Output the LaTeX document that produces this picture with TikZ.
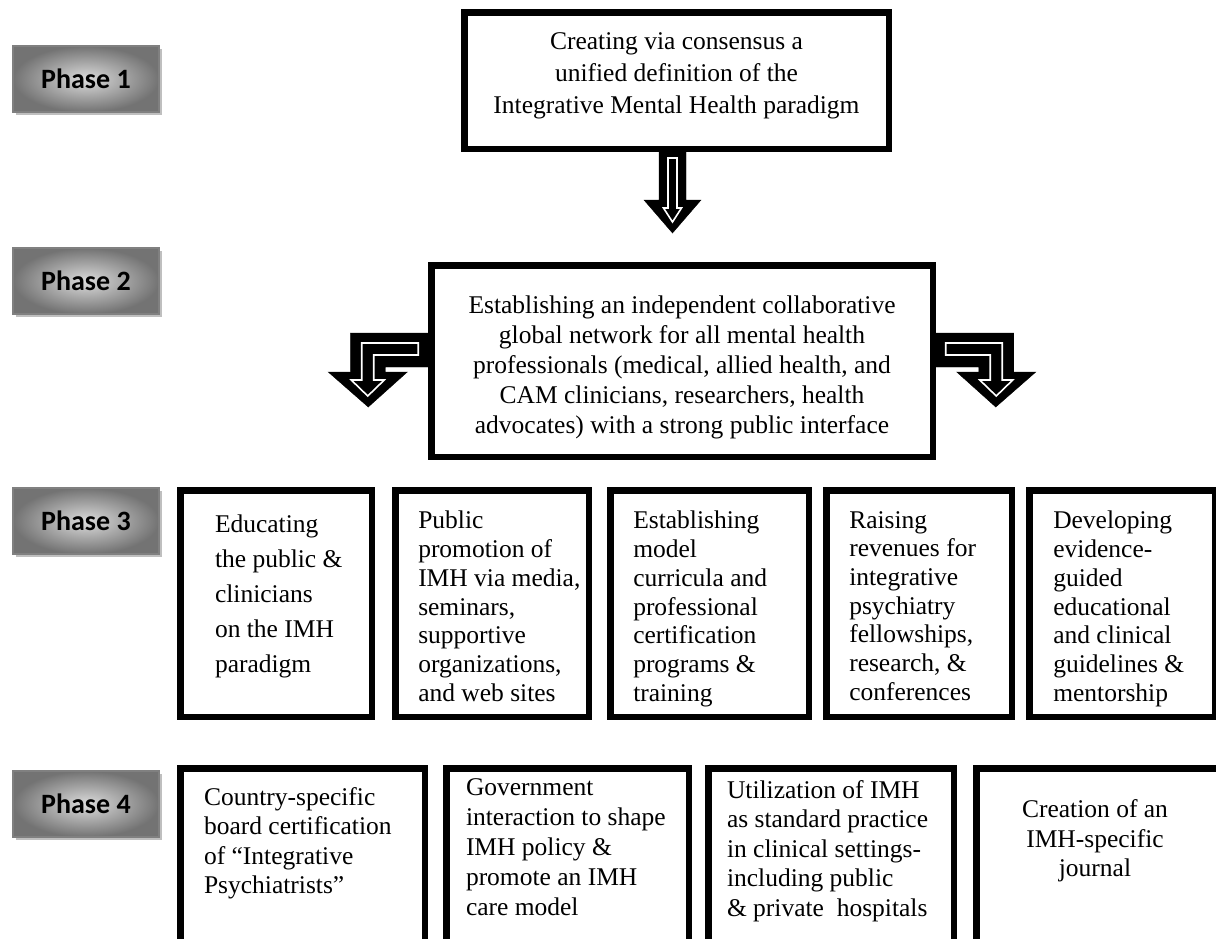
\documentclass[tikz,border=0pt]{standalone}
\usepackage{fontspec}
\setmainfont{Liberation Serif}
\newfontfamily\labelfont{Carlito}
\usetikzlibrary{calc,shadows}

\begin{document}
\begin{tikzpicture}[
    x=1pt, y=-1pt,
    box/.style={draw, line width=6.5pt, inner sep=0pt, outer sep=0pt, anchor=north west},
    txt/.style={inner sep=0pt, outer sep=0pt, anchor=north west, align=left,
        font=\fontsize{25.5}{28.7}\selectfont},
    phase/.style={draw=black!50, line width=2pt, minimum width=146pt, minimum height=66pt,
        inner color=black!14, outer color=black!55,
        drop shadow={shadow xshift=3pt, shadow yshift=-3pt, fill=black!25, opacity=1},
        font=\labelfont\bfseries\fontsize{28}{32}\selectfont},
    blk/.style={fill=black},
    inr/.style={draw=white, line width=1.6pt, fill=black, line join=miter}
]
    \clip (0,0) rectangle (1216,938);
    \fill[white] (0,0) rectangle (1216,938);

    \foreach \y/\n in {79/1,281/2,521/3,804/4}
        \node[phase] (ph\n) at (86,\y) {Phase \n};

    \node[box, minimum width=424.5pt, minimum height=136.5pt] (crt) at (464.25,12.25) {};
    \node[txt, anchor=north, align=center, font=\fontsize{25.5}{32}\selectfont]
        at ($(crt.north)+(0,20)$) {Creating via consensus a\\unified definition of the\\Integrative Mental Health paradigm};

    \node[box, minimum width=501.5pt, minimum height=191.5pt] (net) at (431.25,265.25) {};
    \node[txt, anchor=north, align=center, font=\fontsize{25.5}{30}\selectfont]
        at ($(net.north)+(0,31)$) {Establishing an independent collaborative\\global network for all mental health\\professionals (medical, allied health, and\\CAM clinicians, researchers, health\\advocates) with a strong public interface};

    \node[box, minimum width=191.5pt, minimum height=226.5pt] (edu) at (180.25,490.25) {};
    \node[box, minimum width=193.5pt, minimum height=226.5pt] (pro) at (395.25,490.25) {};
    \node[box, minimum width=198.5pt, minimum height=226.5pt] (cur) at (610.25,490.25) {};
    \node[box, minimum width=185.5pt, minimum height=226.5pt] (rev) at (826.25,490.25) {};
    \node[box, minimum width=185.5pt, minimum height=226.5pt] (gde) at (1029.25,490.25) {};
    \node[txt, font=\fontsize{25.5}{35}\selectfont] at ($(edu.north west)+(34.75,25)$)
        {Educating\\the public \&\\clinicians\\on the IMH\\paradigm};
    \node[txt] at ($(pro.north west)+(23,21)$)
        {Public\\promotion of\\IMH via media,\\seminars,\\supportive\\organizations,\\and web sites};
    \node[txt] at ($(cur.north west)+(23,21)$)
        {Establishing\\model\\curricula and\\professional\\certification\\programs \&\\training};
    \node[txt] at ($(rev.north west)+(23,21)$)
        {Raising\\revenues for\\integrative\\psychiatry\\fellowships,\\research, \&\\conferences};
    \node[txt] at ($(gde.north west)+(24,21)$)
        {Developing\\evidence-\\guided\\educational\\and clinical\\guidelines \&\\mentorship};

    \node[box, minimum width=244.5pt, minimum height=200pt] (brd) at (180.25,768.25) {};
    \node[box, minimum width=242.5pt, minimum height=200pt] (gov) at (446.25,768.25) {};
    \node[box, minimum width=245.5pt, minimum height=200pt] (use) at (708.25,768.25) {};
    \node[box, minimum width=270pt, minimum height=200pt] (jrn) at (976.25,768.25) {};
    \node[txt, font=\fontsize{25.5}{29.5}\selectfont] at ($(brd.north west)+(23.75,19.25)$)
        {Country-specific\\board certification\\of ``Integrative\\Psychiatrists''};
    \node[txt, font=\fontsize{25.5}{30}\selectfont] at ($(gov.north west)+(19.75,10.25)$)
        {Government\\interaction to shape\\IMH policy \&\\promote an IMH\\care model};
    \node[txt, font=\fontsize{25.5}{29.5}\selectfont] at ($(use.north west)+(18.75,12)$)
        {Utilization of IMH\\as standard practice\\in clinical settings-\\including public\\\& private\hspace{0.25em} hospitals};
    \node[txt, anchor=north, align=center, font=\fontsize{25.5}{29.5}\selectfont] at (1095,800)
        {Creation of an\\IMH-specific\\journal};

    \begin{scope}[shift={($(crt.south)+(-4,3.25)$)}]
        \draw[blk] (-13.5,0) -- (-13.5,48) -- (-28.5,48) -- (0,81) -- (28.5,48) -- (13.5,48) -- (13.5,0) -- cycle;
        \draw[inr] (-4.5,6) -- (-4.5,56) -- (-9,56) -- (0,70) -- (9,56) -- (4.5,56) -- (4.5,6) -- cycle;
    \end{scope}
    \foreach \a/\s in {north west/1,north east/-1}{
        \begin{scope}[shift={($(net.\a)+(0,67.75)$)}, xscale=\s]
            \draw[blk] (0,0) -- (-81,0) -- (-81,39) -- (-103,39) -- (-63,74) -- (-24,39)
                -- (-46,39) -- (-46,34) -- (0,34) -- cycle;
            \draw[inr] (-13,10) -- (-69.5,10) -- (-69.5,47) -- (-80,47) -- (-63.5,63) -- (-47,47)
                -- (-57.5,47) -- (-57.5,22) -- (-13,22) -- cycle;
        \end{scope}
    }
\end{tikzpicture}
\end{document}
